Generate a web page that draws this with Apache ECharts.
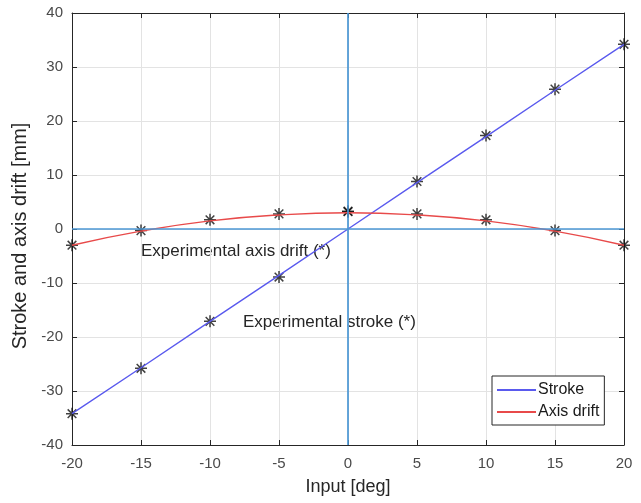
<!DOCTYPE html>
<html><head><meta charset="utf-8">
<script src="https://cdn.jsdelivr.net/npm/echarts@6/dist/echarts.min.js"></script>
<style>html,body{margin:0;padding:0;background:#fff}#c{width:641px;height:503px}</style>
</head><body><div id="c"></div>
<script>
const inputDeg = [-20, -15, -10, -5, 0, 5, 10, 15, 20];
const strokeLine = [-34.2, -25.7, -17.1, -8.6, 0, 8.6, 17.1, 25.7, 34.2];
const driftLine = [-3.0, -0.4, 1.5, 2.6, 3.0, 2.6, 1.5, -0.4, -3.0];
const strokeExp = [-34.2, -25.8, -17.1, -8.9, 3.2, 8.8, 17.3, 25.9, 34.2];
const driftExp = [-3.0, -0.3, 1.7, 2.8, 3.3, 2.8, 1.7, -0.3, -3.0];
const xTicks = [-20, 20, 5];
const yTicks = [-40, 40, 10];

const font = 'Liberation Sans, Arial, sans-serif';
const star = 'path://M0,-5L0,5M-5,0L5,0M-3.6,-3.6L3.6,3.6M-3.6,3.6L3.6,-3.6';
const pairs = (xs, ys) => xs.map((x, i) => [x, ys[i]]);

const chart = echarts.init(document.getElementById('c'));
const axisCommon = {
  type: 'value',
  axisLine: { show: true, onZero: false, lineStyle: { color: '#262626', width: 1 } },
  axisTick: { show: true, inside: true, length: 5, lineStyle: { color: '#262626' } },
};
chart.setOption({
  animation: false,
  grid: { left: 72, right: 17, top: 13, bottom: 58, show: false },
  xAxis: [
    Object.assign({}, axisCommon, {
      min: xTicks[0], max: xTicks[1], interval: xTicks[2], position: 'bottom',
      axisLabel: { color: '#4a4a4a', fontSize: 15, fontFamily: font, margin: 11 },
      splitLine: { show: true, lineStyle: { color: '#e3e3e3', width: 1 } },
      name: 'Input [deg]', nameLocation: 'middle', nameGap: 33,
      nameTextStyle: { color: '#262626', fontSize: 18, fontFamily: font }
    }),
    Object.assign({}, axisCommon, {
      min: xTicks[0], max: xTicks[1], interval: xTicks[2], position: 'top',
      axisLabel: { show: false }, splitLine: { show: false }
    })
  ],
  yAxis: [
    Object.assign({}, axisCommon, {
      min: yTicks[0], max: yTicks[1], interval: yTicks[2], position: 'left',
      axisLabel: { color: '#4a4a4a', fontSize: 15, fontFamily: font, margin: 9 },
      splitLine: { show: true, lineStyle: { color: '#e3e3e3', width: 1 } },
      name: 'Stroke and axis drift [mm]', nameLocation: 'middle', nameGap: 40, nameRotate: 90,
      nameTextStyle: { color: '#262626', fontSize: 20, fontFamily: font, padding: [0, 14, 0, 0] }
    }),
    Object.assign({}, axisCommon, {
      min: yTicks[0], max: yTicks[1], interval: yTicks[2], position: 'right',
      axisLabel: { show: false }, splitLine: { show: false }
    })
  ],
  legend: {
    orient: 'vertical', left: 492, top: 376,
    backgroundColor: '#fff', borderColor: '#262626', borderWidth: 1,
    padding: [6, 5, 5, 5], itemGap: 6, itemWidth: 39, itemHeight: 2, icon: 'rect',
    textStyle: { color: '#1a1a1a', fontSize: 16, fontFamily: font, padding: [0, 0, 0, -3] },
    data: ['Stroke', 'Axis drift']
  },
  series: [
    {
      name: 'zero', type: 'line', data: [], silent: true,
      markLine: {
        silent: true, symbol: 'none', label: { show: false },
        lineStyle: { color: '#4b97d4', width: 1.7, type: 'solid' },
        data: [{ xAxis: 0 }, { yAxis: 0 }]
      }
    },
    {
      name: 'Stroke', type: 'line', data: pairs(inputDeg, strokeLine),
      showSymbol: false, lineStyle: { color: '#5a5aee', width: 1.4 }, itemStyle: { color: '#5a5aee' }
    },
    {
      name: 'Axis drift', type: 'line', data: pairs(inputDeg, driftLine), smooth: 0.5,
      showSymbol: false, lineStyle: { color: '#e84a4a', width: 1.4 }, itemStyle: { color: '#e84a4a' }
    },
    {
      name: 'strokeExp', type: 'scatter', data: pairs(inputDeg, strokeExp),
      symbol: star, symbolSize: 12,
      itemStyle: { color: 'transparent', borderColor: '#111', borderWidth: 1.5 }
    },
    {
      name: 'driftExp', type: 'scatter', data: pairs(inputDeg, driftExp),
      symbol: star, symbolSize: 12,
      itemStyle: { color: 'transparent', borderColor: '#111', borderWidth: 1.5 }
    }
  ],
  graphic: [
    { type: 'text', left: 141, top: 243, style: { text: 'Experimental axis drift (*)', fill: '#262626', font: '17px ' + font } },
    { type: 'text', left: 243, top: 314, style: { text: 'Experimental stroke (*)', fill: '#262626', font: '17px ' + font } }
  ]
});
</script></body></html>
